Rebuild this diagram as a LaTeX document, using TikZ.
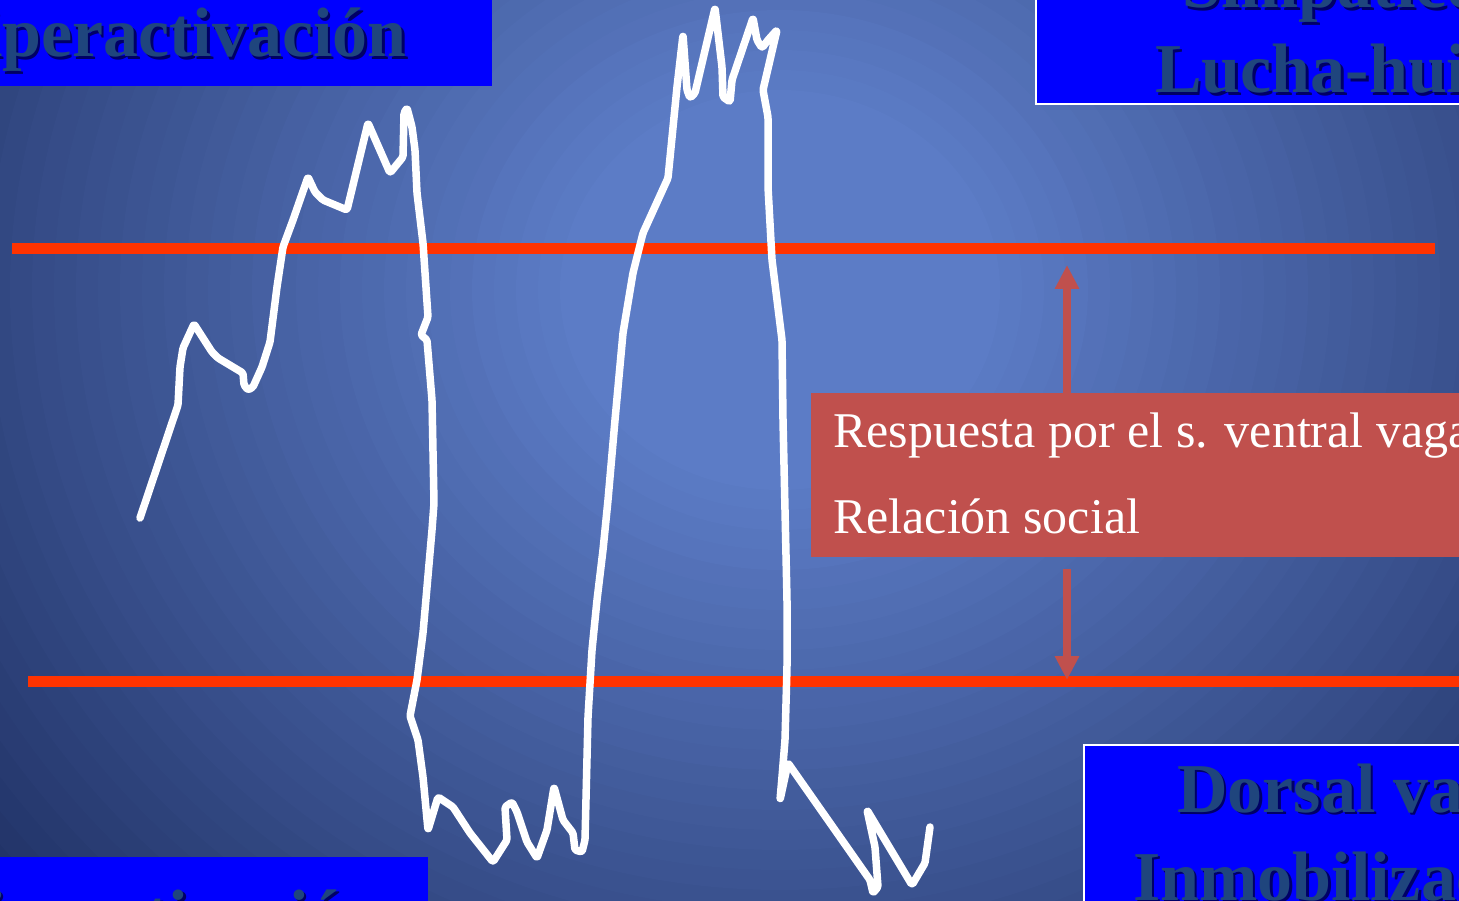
\documentclass[tikz,border=0pt]{standalone}
\usepackage{fontspec}
\setmainfont{Liberation Serif}
\usetikzlibrary{arrows.meta}
\definecolor{bgA}{RGB}{92,124,198}
\definecolor{bgB}{RGB}{28,44,94}
\definecolor{boxblue}{RGB}{0,0,255}
\definecolor{boxtext}{RGB}{31,69,125}
\definecolor{linered}{RGB}{255,51,0}
\definecolor{rboxfill}{RGB}{192,80,77}
\newcommand\shadtext[4]{%
  \node[shadtxt, anchor=#2, xshift=2.5pt, yshift=-2.5pt] (#1s) at (#3) {#4};
  \node[boxtxt, anchor=#2] (#1) at (#3) {#4};}
\begin{document}
\begin{tikzpicture}[x=1pt,y=-1pt,
  boxtxt/.style={font=\bfseries\fontsize{70}{84}\selectfont, text=boxtext, inner sep=0pt},
  shadtxt/.style={font=\bfseries\fontsize{70}{84}\selectfont, text=black, text opacity=0.6, inner sep=0pt},
  wtxt/.style={font=\fontsize{50}{60}\selectfont, text=white, inner sep=0pt},
  redline/.style={draw=linered, line width=11pt},
  wline/.style={draw=white, line width=7.5pt, line cap=round, line join=round, rounded corners=1.5pt},
  arr/.style={draw=rboxfill, line width=8pt, -{Triangle[width=23pt,length=24pt]}},
  bluebox/.style={fill=boxblue},
  whitebox/.style={fill=boxblue, draw=white, line width=2.5pt}]
\useasboundingbox (0,0) rectangle (1459,901);
\clip (0,0) rectangle (1459,901);
% background: stepped radial gradient
\fill[bgB] (0,0) rectangle (1459,901);
\foreach \i in {0,...,40}{
  \pgfmathsetmacro\rr{1000-20*\i}
  \pgfmathsetmacro\rx{1.1*\rr}
  \pgfmathtruncatemacro\pp{100*(1-(\rr-200)/800)}
  \fill[bgA!\pp!bgB] (780,290) ellipse (\rx pt and \rr pt);
}

% red levels
\coordinate (l1a) at (12,249);
\coordinate (l1b) at (1435,249);
\coordinate (l2a) at (28,681);
\coordinate (l2b) at (1470,681);
\draw[redline] (l1a) -- (l1b);
\draw[redline] (l2a) -- (l2b);

% white trace
\draw[wline] (140,518) -- (178,405) -- (180,367) -- (183,348) -- (194,324) -- (212,352) -- (218,358) -- (243,373) -- (244,385) -- (248,390) -- (253,387) -- (262,367) -- (270,342) -- (277,287) -- (283,247) -- (293,220) -- (308,177) -- (315,192) -- (323,200) -- (347,210) -- (368,123) -- (390,173) -- (403,157) -- (404,113) -- (407,108) -- (412,127) -- (415,150) -- (417,193) -- (423,243) -- (428,317) -- (421,335) -- (427,340) -- (432,400) -- (434,503) -- (432,530) -- (423,633) -- (417,680) -- (410,716) -- (418,740) -- (423,777) -- (428,830) -- (438,797) -- (453,807) -- (470,833) -- (493,862) -- (507,840) -- (505,807) -- (512,802) -- (517,812) -- (527,842) -- (537,858) -- (547,830) -- (554,787) -- (563,820) -- (573,833) -- (575,850) -- (582,852) -- (585,840) -- (588,717) -- (592,650) -- (597,600) -- (603,550) -- (608,500) -- (615,420) -- (623,333) -- (633,273) -- (643,233) -- (668,178) -- (677,87) -- (683,35) -- (687,90) -- (690,98) -- (695,93) -- (715,8) -- (722,67) -- (723,97) -- (730,102) -- (732,80) -- (753,18) -- (757,40) -- (762,48) -- (768,40) -- (777,30) -- (763,90) -- (768,117) -- (768,187) -- (772,260) -- (782,340) -- (783,420) -- (787,600) -- (787,667) -- (785,740) -- (782,777) -- (780,800) -- (788,763) -- (870,880) -- (873,893) -- (878,887) -- (875,847) -- (867,810) -- (885,840) -- (912,885) -- (925,863) -- (930,827);

% red box
\node[fill=rboxfill, anchor=north west, minimum width=700pt, minimum height=164pt, inner sep=0pt] (rbox) at (811,393) {};
\node[wtxt, anchor=base west] (rt1) at (833,447) {Respuesta por el s. ventral vagal};
\node[wtxt, anchor=base west] (rt2) at (833,533) {Relación social};
\coordinate (uptip) at (1067,265);
\coordinate (dntip) at (1067,680);
\draw[arr] (rbox.north -| uptip) -- (uptip);
\draw[arr] ([yshift=-12pt]rbox.south -| dntip) -- (dntip);

% blue boxes
\fill[bluebox] (-10,-10) rectangle (492,86);
\shadtext{hiper}{base east}{407,57}{Hiperactivación}
\draw[whitebox] (1036,-10) rectangle (1475,104);
\shadtext{simp}{base west}{1182,8}{Simpático}
\shadtext{lucha}{base west}{1155,93}{Lucha-huida}
\draw[whitebox] (1084,745) rectangle (1475,915);
\shadtext{dorsal}{base west}{1177,812}{Dorsal vagal}
\shadtext{inmob}{base west}{1133,900}{Inmobilización}
\fill[bluebox] (-10,857) rectangle (428,915);
\shadtext{hipo}{base east}{383,938}{Hipoactivación}
\end{tikzpicture}
\end{document}
